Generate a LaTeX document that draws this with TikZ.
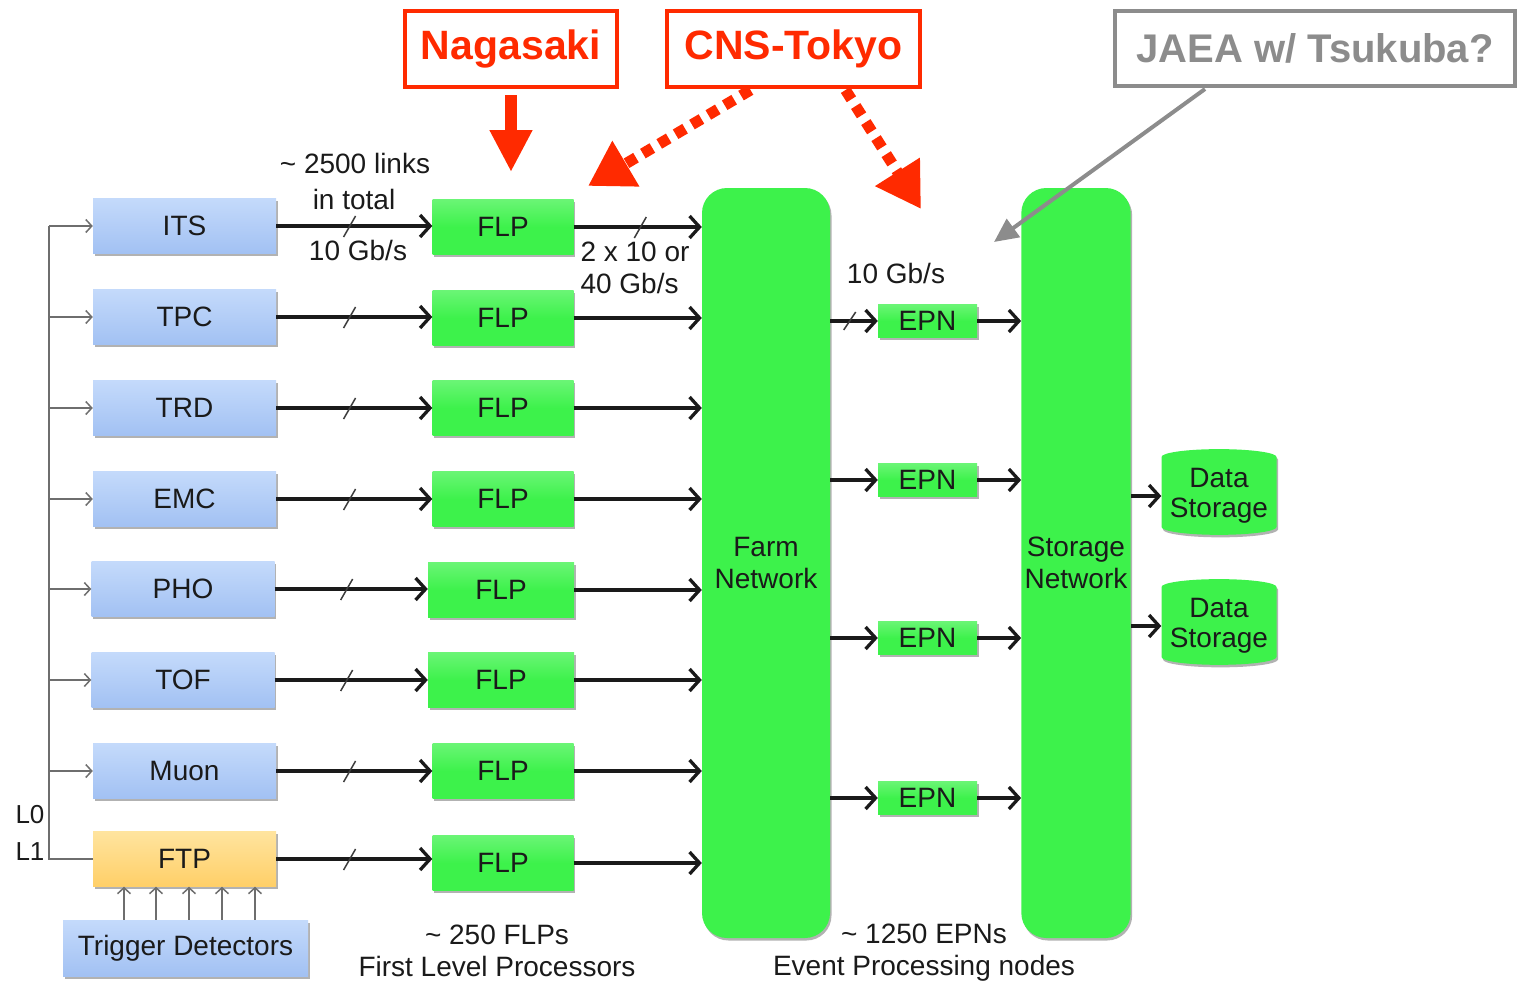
\documentclass[tikz,border=0pt]{standalone}
\usepackage{fontspec}
\setmainfont{Liberation Sans}
\usetikzlibrary{arrows.meta,shapes.geometric,shadows,calc}
\definecolor{boxgreen}{HTML}{3DF24B}
\definecolor{greentop}{HTML}{6AF575}
\definecolor{dettop}{HTML}{C4DAFB}
\definecolor{detbot}{HTML}{A2C1F3}
\definecolor{ftptop}{HTML}{FFE49E}
\definecolor{ftpbot}{HTML}{FFCF68}
\definecolor{txt}{HTML}{1A1A1A}
\definecolor{redc}{HTML}{FF2A00}
\definecolor{jaeagray}{HTML}{8C8C8C}
\definecolor{trunkgray}{HTML}{6E6E6E}
\newcommand\lblfont{\fontsize{28}{32}\selectfont}
\newcommand\bigfont{\fontsize{41}{46}\selectfont\bfseries}
\tikzset{
  shad/.style={drop shadow={shadow xshift=1.5pt,shadow yshift=-2.5pt,opacity=0.3,fill=black}},
  det/.style={draw=none,top color=dettop,bottom color=detbot,minimum width=183pt,minimum height=55pt,font=\lblfont,text=txt,shad},
  ftpbox/.style={det,top color=ftptop,bottom color=ftpbot},
  flp/.style={draw=none,top color=greentop,bottom color=boxgreen,middle color=boxgreen,minimum width=141pt,minimum height=55pt,font=\lblfont,text=txt,shad},
  epn/.style={flp,minimum width=99pt,minimum height=33pt},
  net/.style={draw=none,fill=boxgreen,rounded corners=25pt,minimum height=750pt,align=center,font=\lblfont,text=txt,shad},
  dstore/.style={cylinder,shape border rotate=90,aspect=0.16,draw=none,fill=boxgreen,minimum width=115pt,minimum height=85pt,font=\fontsize{28}{32}\selectfont,text=txt,inner sep=0pt,shad},
  lbl/.style={font=\lblfont,text=txt,align=center,inner sep=0pt},
  arr/.style={line width=3.3pt,txt,-{Straight Barb[length=10pt,width=22pt]}},
  slash/.style={line width=1.5pt,txt!85},
  garr/.style={line width=1.5pt,trunkgray,-{Straight Barb[length=6pt,width=13pt]}},
  redbox/.style={draw=redc,line width=4pt,minimum height=76pt,font=\bigfont,text=redc},
  bigred/.style={redc,line width=12pt,-{Triangle[length=42pt,width=40pt]}},
  dotred/.style={redc,line width=11pt,dash pattern=on 11pt off 8pt,-{Triangle[length=44pt,width=50pt]}},
}
\newcommand\dstext{\raisebox{-5pt}{\begin{tabular}{@{}c@{}}Data\\[-2pt]Storage\end{tabular}}}
\begin{document}
\begin{tikzpicture}[x=1pt,y=-1pt]
\useasboundingbox (0,0) rectangle (1517,986);
% detectors
\node[det] (its) at (184.5,226) {ITS};
\node[det] (tpc) at (184.5,317) {TPC};
\node[det] (trd) at (184.5,408) {TRD};
\node[det] (emc) at (184.5,499) {EMC};
\node[det] (pho) at (183,589) {PHO};
\node[det] (tof) at (183,680) {TOF};
\node[det] (muon) at (184.5,771) {Muon};
\node[ftpbox] (ftp) at (184.5,859) {FTP};
\node[det,minimum width=245pt,minimum height=56pt] (trig) at (185.5,948) {Trigger Detectors};
% FLPs
\node[flp] (f1) at (503,227) {FLP};
\node[flp] (f2) at (503,318) {FLP};
\node[flp] (f3) at (503,408) {FLP};
\node[flp] (f4) at (503,499) {FLP};
\node[flp,minimum width=146pt] (f5) at (501,590) {FLP};
\node[flp,minimum width=146pt] (f6) at (501,680) {FLP};
\node[flp] (f7) at (503,771) {FLP};
\node[flp] (f8) at (503,863) {FLP};
% networks
\node[net,minimum width=128pt] (farm) at (766,563) {Farm\\Network};
\node[net,minimum width=108pt] (stor) at (1076,563) {Storage\\Network};
% EPNs
\node[epn] (e1) at (927.5,321) {EPN};
\node[epn] (e2) at (927.5,480) {EPN};
\node[epn] (e3) at (927.5,638) {EPN};
\node[epn] (e4) at (927.5,798) {EPN};
% data storage
\node[dstore] (d1) at (1219,496) {\dstext};
\node[dstore] (d2) at (1219,626) {\dstext};
% trigger lines
\coordinate (trunk) at (49,0);
\draw[line width=1.8pt,trunkgray] (its.west -| trunk) -- (ftp.west -| trunk) -- (ftp.west);
\foreach \n in {its,tpc,trd,emc,pho,tof,muon}
  \draw[garr] (\n.west -| trunk) -- (\n.west);
\foreach \x in {124,156,189,222,255}{
  \coordinate (tx) at (\x,0);
  \draw[garr] (trig.north -| tx) -- (ftp.south -| tx);
}
\node[lbl,font=\fontsize{26}{30}\selectfont] (l0) at (30,815) {L0};
\node[lbl,font=\fontsize{26}{30}\selectfont] (l1) at (30,852) {L1};
% detector -> FLP
\foreach \d/\f in {its/f1,tpc/f2,trd/f3,emc/f4,pho/f5,tof/f6,muon/f7,ftp/f8}{
  \draw[arr] (\d.east) -- (\d.east -| \f.west);
  \draw[slash] ($(\d.east)!0.47!(\d.east -| \f.west)$) ++(-6,11) -- ++(12,-21);
  \draw[arr] (\f.east) -- (\f.east -| farm.west);
}
\draw[slash] ($(f1.east)!0.52!(f1.east -| farm.west)$) ++(-6,11) -- ++(12,-21);
% farm -> EPN -> storage
\foreach \e in {e1,e2,e3,e4}{
  \draw[arr] (\e.west -| farm.east) -- (\e.west);
  \draw[arr] (\e.east) -- (\e.east -| stor.west);
}
\draw[slash] ($(e1.west -| farm.east)!0.41!(e1.west)$) ++(-6,9) -- ++(12,-18);
\draw[arr] (d1.west -| stor.east) -- (d1.west);
\draw[arr] (d2.west -| stor.east) -- (d2.west);
% labels
\node[lbl] (t1) at (355,163) {\textasciitilde{} 2500 links};
\node[lbl] (t2) at (354,199) {in total};
\node[lbl] (t3) at (358,250) {10 Gb/s};
\node[lbl,align=left] (t4) at (635,268) {2 x 10 or\\40 Gb/s};
\node[lbl] (t5) at (896,273) {10 Gb/s};
\node[lbl] (t6) at (497,951) {\textasciitilde{} 250 FLPs\\First Level Processors};
\node[lbl] (t7) at (924,953) {\textasciitilde{} 1250 EPNs\\Event Processing nodes};
% top boxes
\node[redbox,minimum width=212pt] (naga) at (511,49) {\raisebox{-4pt}{Nagasaki}};
\node[redbox,minimum width=253pt] (cns) at (793.5,49) {\raisebox{-4pt}{CNS-Tokyo}};
\node[draw=jaeagray,line width=4pt,minimum width=400pt,minimum height=75pt,font=\fontsize{40}{45}\selectfont\bfseries,text=jaeagray] (jaea) at (1315,48.5) {\raisebox{-2pt}{JAEA w/ Tsukuba?}};
\draw[bigred] ([yshift=-6pt]naga.south) -- ++(0,77);
\coordinate (ct1) at (588,186);
\coordinate (ct2) at (921,209);
\coordinate (jt) at (994,242);
\draw[dotred] ([xshift=-43pt,yshift=-1pt]cns.south) -- (ct1);
\draw[dotred] ([xshift=52pt,yshift=-1pt]cns.south) -- (ct2);
\draw[jaeagray,line width=4pt,-{Triangle[length=24pt,width=22pt]}] ([xshift=-110pt,yshift=-1pt]jaea.south) -- (jt);
\end{tikzpicture}
\end{document}
